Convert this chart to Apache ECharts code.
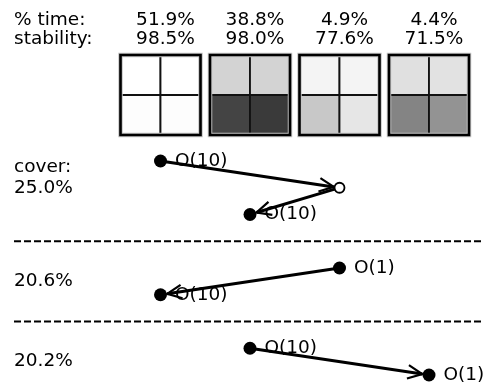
<!DOCTYPE html>
<html><head><meta charset="utf-8">
<script src="https://cdn.jsdelivr.net/npm/echarts@6/dist/echarts.min.js"></script>
<style>html,body{margin:0;padding:0;background:#fff}#chart{width:483px;height:392px}</style>
</head><body><div id="chart"></div>
<script>
// Clusters (columns) with their share of time and stability
const clusters = ['A', 'B', 'C', 'D'];
const timeShare = [51.9, 38.8, 4.9, 4.4];
const stability = [98.5, 98.0, 77.6, 71.5];
// Gray level of each 2x2 cell: top-left, top-right, bottom-left, bottom-right
const cellGray = [
  [255, 255, 253, 253],
  [211, 211, 68, 58],
  [244, 244, 200, 230],
  [224, 226, 132, 147]
];
// Transition paths between clusters, one panel per path
const coverPct = [25.0, 20.6, 20.2];
const pathClusters = [[0, 2, 1], [2, 0], [1, 3]];
const pathTags = [['O(10)', null, 'O(10)'], ['O(1)', 'O(10)'], ['O(10)', 'O(1)']];

const FONT = 'DejaVu Sans';
const FONT_SIZE = 18.5;
const DOT = 13, RING = 10;

// Lay the paths out on rows, leaving one row between panels for a separator
let row = 0;
const filledNodes = [], openNodes = [], arrows = [], separators = [], coverItems = [];
pathClusters.forEach((path, p) => {
  if (p > 0) { separators.push(row); row++; }
  const start = row;
  path.forEach((c, k) => {
    const tag = pathTags[p][k];
    if (tag == null) openNodes.push([c, row]);
    else filledNodes.push([c, row, tag]);
    if (k > 0) {
      arrows.push([path[k - 1], row - 1, c, row,
        tag == null ? 1 : 0, pathTags[p][k - 1] == null ? 1 : 0]);
    }
    row++;
  });
  coverItems.push({ value: [0, (start + row - 1) / 2, coverPct[p].toFixed(1) + '%'] });
});
const lastRow = row - 1;
coverItems.push({ value: [0, coverItems[0].value[1], 'cover:'], label: { offset: [0, -21] } });

const cellData = cellGray.map((g, c) => [c].concat(g));

function renderCells(params, api) {
  const c = api.value(0);
  const unit = api.size([0, 1])[1];
  const center = api.coord([c, 1]);
  const x0 = center[0] - unit, y0 = center[1] - unit;
  const children = [];
  for (let k = 0; k < 4; k++) {
    const g = api.value(1 + k);
    children.push({
      type: 'rect',
      shape: { x: x0 + (k % 2) * unit, y: y0 + Math.floor(k / 2) * unit, width: unit, height: unit },
      style: { fill: 'rgb(' + g + ',' + g + ',' + g + ')', stroke: '#111', lineWidth: 1.8 }
    });
  }
  children.push({
    type: 'rect', shape: { x: x0, y: y0, width: 2 * unit, height: 2 * unit },
    style: { fill: null, stroke: '#c4c4c4', lineWidth: 4.5 }
  });
  children.push({
    type: 'rect', shape: { x: x0, y: y0, width: 2 * unit, height: 2 * unit },
    style: { fill: null, stroke: '#000', lineWidth: 2.6 }
  });
  return { type: 'group', children: children };
}

function renderArrow(params, api) {
  const p0 = api.coord([api.value(0), api.value(1)]);
  const p1 = api.coord([api.value(2), api.value(3)]);
  const dx = p1[0] - p0[0], dy = p1[1] - p0[1];
  const len = Math.sqrt(dx * dx + dy * dy);
  const ux = dx / len, uy = dy / len;
  const rEnd = api.value(4) ? RING / 2 + 0.8 : DOT / 2 + 0.3;
  const rStart = api.value(5) ? RING / 2 : 0;
  const s = [p0[0] + ux * rStart, p0[1] + uy * rStart];
  const e = [p1[0] - ux * rEnd, p1[1] - uy * rEnd];
  const ang = Math.atan2(-uy, -ux), spread = 25 * Math.PI / 180, head = 16;
  const a = [e[0] + head * Math.cos(ang + spread), e[1] + head * Math.sin(ang + spread)];
  const b = [e[0] + head * Math.cos(ang - spread), e[1] + head * Math.sin(ang - spread)];
  return {
    type: 'group',
    children: [
      { type: 'line', shape: { x1: s[0], y1: s[1], x2: e[0], y2: e[1] },
        style: { stroke: '#000', lineWidth: 3 } },
      { type: 'polyline', shape: { points: [a, e, b] },
        style: { stroke: '#000', lineWidth: 2.2, fill: null } }
    ]
  };
}

const labelStyle = { fontFamily: FONT, fontSize: FONT_SIZE, color: '#000', opacity: 1 };

const option = {
  animation: false,
  backgroundColor: '#fff',
  textStyle: { fontFamily: FONT },
  title: {
    text: '% time:\nstability:',
    left: 14, top: 10, padding: 0,
    textStyle: { fontFamily: FONT, fontSize: FONT_SIZE, fontWeight: 'normal', lineHeight: 19.5, color: '#000' }
  },
  grid: [
    { left: 115.75, right: 9.25, top: 55, height: 80 },
    { left: 115.75, right: 9.25, top: 161, height: 214 },
    { left: 14, right: 0, top: 161, height: 214 }
  ],
  xAxis: [
    { gridIndex: 0, type: 'category', data: clusters, position: 'top',
      axisLine: { show: false }, axisTick: { show: false }, splitLine: { show: false },
      axisLabel: Object.assign({
        margin: 6, lineHeight: 19.5, padding: [0, 0, 0, 10],
        formatter: (v, i) => timeShare[i].toFixed(1) + '%\n' + stability[i].toFixed(1) + '%'
      }, labelStyle) },
    { gridIndex: 1, type: 'category', data: clusters, show: false },
    { gridIndex: 2, type: 'value', min: 0, max: 1, show: false }
  ],
  yAxis: [
    { gridIndex: 0, type: 'value', min: 0, max: 2, inverse: true, show: false },
    { gridIndex: 1, type: 'value', min: 0, max: lastRow, inverse: true, show: false },
    { gridIndex: 2, type: 'value', min: 0, max: lastRow, inverse: true, show: false }
  ],
  series: [
    { type: 'custom', xAxisIndex: 0, yAxisIndex: 0, data: cellData,
      encode: { x: 0 }, renderItem: renderCells, silent: true },
    ...separators.map(s => ({
      type: 'line', xAxisIndex: 2, yAxisIndex: 2, symbol: 'none', silent: true,
      data: [[0, s], [1, s]],
      lineStyle: { color: '#000', width: 2, type: [7, 3], opacity: 1 }
    })),
    { type: 'scatter', xAxisIndex: 2, yAxisIndex: 2, data: coverItems, symbolSize: 0,
      silent: true, clip: false, itemStyle: { opacity: 1 },
      label: Object.assign({ show: true, position: 'right', distance: 0,
        formatter: p => p.value[2] }, labelStyle) },
    { type: 'custom', xAxisIndex: 1, yAxisIndex: 1, data: arrows, z: 2,
      encode: { x: [0, 2], y: [1, 3] }, renderItem: renderArrow, silent: true },
    { type: 'scatter', xAxisIndex: 1, yAxisIndex: 1, data: openNodes, z: 3,
      symbol: 'circle', symbolSize: RING, clip: false, silent: true,
      itemStyle: { color: '#fff', borderColor: '#000', borderWidth: 1.8, opacity: 1 } },
    { type: 'scatter', xAxisIndex: 1, yAxisIndex: 1, data: filledNodes, z: 3,
      symbol: 'circle', symbolSize: DOT, clip: false, silent: true,
      itemStyle: { color: '#000', opacity: 1 },
      label: Object.assign({ show: true, position: 'right', distance: 8,
        formatter: p => p.value[2] }, labelStyle) }
  ]
};

echarts.init(document.getElementById('chart'), null, { renderer: 'canvas' }).setOption(option);
</script>
</body></html>
